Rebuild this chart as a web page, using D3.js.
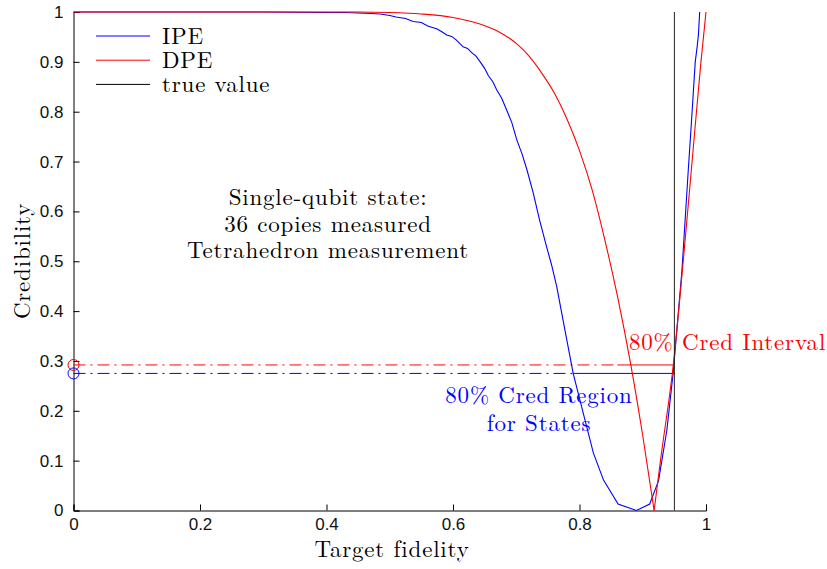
<!DOCTYPE html>
<html><head><meta charset="utf-8">
<script src="https://cdn.jsdelivr.net/npm/d3@7"></script>
<style>body{margin:0;background:#fff}svg{display:block}</style>
</head><body>
<svg id="c" width="827" height="569"></svg>
<script>
const xTicks = [0, 0.2, 0.4, 0.6, 0.8, 1];
const yTicks = [0, 0.1, 0.2, 0.3, 0.4, 0.5, 0.6, 0.7, 0.8, 0.9, 1];
const ipeX = [0,0.30,0.40,0.43,0.45,0.47,0.485,0.50,0.51,0.525,0.537,0.55,0.56,0.575,0.583,0.590,0.598,0.605,0.616,0.623,0.63,0.636,0.643,0.650,0.656,0.663,0.669,0.677,0.685,0.693,0.701,0.709,0.717,0.727,0.737,0.748,0.756,0.764,0.777,0.790,0.806,0.822,0.838,0.861,0.890,0.911,0.925,0.938,0.948,0.962,0.972,0.977,0.983,0.986,0.988,0.990];
const ipeY = [1,1,0.999,0.999,0.998,0.997,0.996,0.993,0.99,0.987,0.981,0.979,0.972,0.966,0.960,0.954,0.951,0.944,0.930,0.927,0.918,0.912,0.900,0.887,0.872,0.860,0.844,0.827,0.803,0.778,0.743,0.716,0.683,0.636,0.582,0.529,0.492,0.449,0.362,0.275,0.195,0.115,0.061,0.013,0.0,0.013,0.06,0.16,0.275,0.482,0.683,0.780,0.900,0.93,0.954,1.0];
const dpeLeftX = [0,0.45,0.5,0.55,0.6,0.64,0.67,0.70,0.72,0.74,0.76,0.78,0.80,0.82,0.84,0.86,0.88,0.90,0.918];
const dpeLeftY = [1,1,0.999,0.996,0.989,0.977,0.962,0.937,0.912,0.878,0.838,0.786,0.722,0.643,0.543,0.43,0.30,0.15,0.0];
const dpeRightX = [0.918,0.928,0.949,0.964,0.978,0.992,1.0];
const dpeRightY = [0.0,0.1,0.3,0.5,0.7,0.9,1.0];
const trueValue = 0.95;
const ipeLevel = 0.275, dpeLevel = 0.292;
const ipeSolidStart = 0.79, dpeSolidStart = 0.86;
const legendLabels = ["IPE", "DPE", "true value"];
const colors = ["#0000ff", "#ff0000", "#000000"];
const infoLines = ["Single-qubit state:", "36 copies measured", "Tetrahedron measurement"];

const svg = d3.select("#c");
const x = d3.scaleLinear().domain([0, 1]).range([73.5, 706]);
const y = d3.scaleLinear().domain([0, 1]).range([510.5, 12]);
const serif = "'Latin Modern Roman','CMU Serif','Liberation Serif',serif";
const fs = 23, ls = 0.8;

// axes
const gx = svg.append("g").attr("transform", "translate(0,510.5)")
  .call(d3.axisBottom(x).tickValues(xTicks).tickSize(-6).tickPadding(7).tickFormat(d3.format("")));
const gy = svg.append("g").attr("transform", "translate(73.5,0)")
  .call(d3.axisLeft(y).tickValues(yTicks).tickSize(-6).tickPadding(10).tickFormat(d3.format("")));
[gx, gy].forEach(g => {
  g.select(".domain").attr("stroke", "#000").attr("stroke-width", 1);
  g.selectAll(".tick line").attr("stroke", "#000");
  g.selectAll("text").attr("font-family", "'Liberation Sans',Arial,sans-serif").attr("font-size", 17).attr("fill", "#111");
});

const line = d3.line().x(d => x(d[0])).y(d => y(d[1]));
const smooth = d3.line().x(d => x(d[0])).y(d => y(d[1])).curve(d3.curveMonotoneX);

// credibility lines
const levels = [[dpeLevel, dpeSolidStart, colors[1]], [ipeLevel, ipeSolidStart, colors[0]]];
levels.forEach(([lv, st, c]) => {
  svg.append("path").attr("d", line([[0, lv], [st, lv]])).attr("stroke", c).attr("fill", "none")
    .attr("stroke-dasharray", "12,5,2,5");
  svg.append("path").attr("d", line([[st, lv], [trueValue, lv]])).attr("stroke", c).attr("fill", "none");
  svg.append("circle").attr("cx", x(0)).attr("cy", y(lv)).attr("r", 5.5).attr("fill", "none").attr("stroke", c);
});

// curves
svg.append("path").attr("d", line(ipeX.map((v, i) => [v, ipeY[i]]))).attr("stroke", colors[0]).attr("fill", "none").attr("stroke-width", 1.1);
svg.append("path").attr("d", smooth(dpeLeftX.map((v, i) => [v, dpeLeftY[i]]))).attr("stroke", colors[1]).attr("fill", "none").attr("stroke-width", 1.1);
svg.append("path").attr("d", smooth(dpeRightX.map((v, i) => [v, dpeRightY[i]]))).attr("stroke", colors[1]).attr("fill", "none").attr("stroke-width", 1.1);
svg.append("path").attr("d", line([[trueValue, 0], [trueValue, 1]])).attr("stroke", "#222").attr("fill", "none");

// legend
legendLabels.forEach((t, i) => {
  const ly = 36 + i * 24.2;
  svg.append("line").attr("x1", 96).attr("x2", 150).attr("y1", ly).attr("y2", ly).attr("stroke", colors[i]);
  svg.append("text").attr("x", 162).attr("y", ly + 8).text(t)
    .attr("font-family", serif).attr("font-size", fs).attr("letter-spacing", ls).attr("fill", "#000");
});

// annotations
infoLines.forEach((t, i) => {
  svg.append("text").attr("x", 328).attr("y", 205 + i * 26.5).attr("text-anchor", "middle").text(t)
    .attr("font-family", serif).attr("font-size", fs).attr("letter-spacing", ls).attr("fill", "#000");
});
svg.append("text").attr("x", 629).attr("y", 350).text("80% Cred Interval")
  .attr("font-family", serif).attr("font-size", fs).attr("letter-spacing", ls).attr("fill", colors[1]);
svg.append("text").attr("x", 539).attr("y", 403).attr("text-anchor", "middle").text("80% Cred Region")
  .attr("font-family", serif).attr("font-size", fs).attr("letter-spacing", ls).attr("fill", colors[0]);
svg.append("text").attr("x", 539).attr("y", 431).attr("text-anchor", "middle").text("for States")
  .attr("font-family", serif).attr("font-size", fs).attr("letter-spacing", ls).attr("fill", colors[0]);

// axis titles
svg.append("text").attr("x", 392).attr("y", 557).attr("text-anchor", "middle").text("Target fidelity")
  .attr("font-family", serif).attr("font-size", fs).attr("letter-spacing", ls).attr("fill", "#000");
svg.append("text").attr("transform", "translate(30,261) rotate(-90)").attr("text-anchor", "middle").text("Credibility")
  .attr("font-family", serif).attr("font-size", fs).attr("letter-spacing", ls).attr("fill", "#000");
</script>
</body></html>
